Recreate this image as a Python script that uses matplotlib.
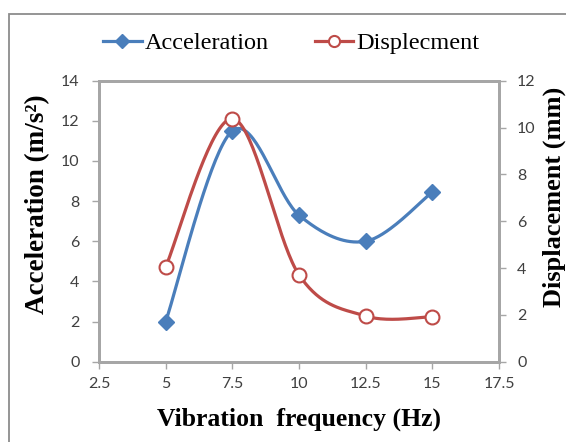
import numpy as np
import matplotlib
matplotlib.use("Agg")
import matplotlib.pyplot as plt
from matplotlib.lines import Line2D
from matplotlib.patches import Rectangle

# data
freq = [5, 7.5, 10, 12.5, 15]
accel = [2.0, 11.5, 7.3, 6.0, 8.45]
displ = [4.05, 10.38, 3.71, 1.95, 1.92]

x_ticks = [2.5, 5, 7.5, 10, 12.5, 15, 17.5]
y_ticks_left = [0, 2, 4, 6, 8, 10, 12, 14]
y_ticks_right = [0, 2, 4, 6, 8, 10, 12]

blue = "#4A7EBB"
red = "#BE4B48"
grey = "#A6A6A6"


def smooth(xs, ys, n=40):
    # Excel-like smoothed line: Catmull-Rom segments drawn as cubic Beziers
    p = np.column_stack([xs, ys]).astype(float)
    pts = np.vstack([p[0], p, p[-1]])
    out = []
    t = np.linspace(0, 1, n)[:, None]
    for i in range(1, len(pts) - 2):
        p0, p3 = pts[i], pts[i + 1]
        c1 = p0 + (pts[i + 1] - pts[i - 1]) / 6
        c2 = p3 - (pts[i + 2] - pts[i]) / 6
        seg = ((1 - t) ** 3) * p0 + 3 * ((1 - t) ** 2) * t * c1 + 3 * (1 - t) * t ** 2 * c2 + t ** 3 * p3
        out.append(seg)
    c = np.vstack(out)
    return c[:, 0], c[:, 1]


W, H = 566, 442
fig = plt.figure(figsize=(W / 100, H / 100), dpi=100)

# outer chart frame (cut off at right and bottom)
fig.patches.append(Rectangle((9 / W, -0.1), 1.2, (H - 14) / H + 0.1, transform=fig.transFigure,
                             fill=False, edgecolor="#8C8C8C", linewidth=1.3))

ax = fig.add_axes([99 / W, (H - 361.7) / H, 400 / W, 281 / H])
ax2 = ax.twinx()

tick_font = dict(family="Lato", size=11.5)

ax.set_xlim(2.5, 17.5)
ax.set_ylim(0, 14)
ax2.set_ylim(0, 12)
ax.set_xticks(x_ticks)
ax.set_xticklabels([f"{v:g}" for v in x_ticks], **tick_font)
ax.set_yticks(y_ticks_left)
ax.set_yticklabels([str(v) for v in y_ticks_left], **tick_font)
ax2.set_yticks(y_ticks_right)
ax2.set_yticklabels([str(v) for v in y_ticks_right], **tick_font)

for a in (ax, ax2):
    for s in a.spines.values():
        s.set_color(grey)
        s.set_linewidth(2)
    a.tick_params(colors=grey, labelcolor="#404040", length=5, width=1, direction="out")
ax.tick_params(axis="y", pad=9)
ax.tick_params(axis="x", pad=6)
ax2.tick_params(axis="y", pad=8)

sx, sy = smooth(freq, accel)
ax.plot(sx, sy, color=blue, lw=2.3, solid_capstyle="round", zorder=3)
ax.plot(freq, accel, ls="none", marker="D", ms=8, color=blue, zorder=4)

dx, dy = smooth(freq, displ)
ax2.plot(dx, dy, color=red, lw=2.3, solid_capstyle="round", zorder=3)
ax2.plot(freq, displ, ls="none", marker="o", ms=10, mfc="white", mec=red, mew=1.5, zorder=4)

label_font = dict(family="Liberation Serif", weight="bold", size=18.5)
ax.set_xlabel("Vibration  frequency (Hz)", labelpad=12, **label_font)
ax.set_ylabel("Acceleration (m/s²)", size=19.5, family="Liberation Serif", weight="bold")
ax.yaxis.set_label_coords(-0.122, 0.56)
ax2.set_ylabel("Displacement (mm)", size=19, family="Liberation Serif", weight="bold")
ax2.yaxis.set_label_coords(1.11, 0.585)

handles = [
    Line2D([], [], color=blue, lw=2.3, marker="D", ms=7),
    Line2D([], [], color=red, lw=2.3, marker="o", ms=8, mfc="white", mec=red, mew=1.5),
]
fig.legend(handles, ["Acceleration", "Displecment"], loc="center",
           bbox_to_anchor=(291 / W, 1 - 43 / H), ncol=2, frameon=False,
           prop=dict(family="Liberation Serif", size=17.5), handlelength=1.6,
           handletextpad=0.1, columnspacing=1.9)

fig.savefig("out.png", dpi=100)
